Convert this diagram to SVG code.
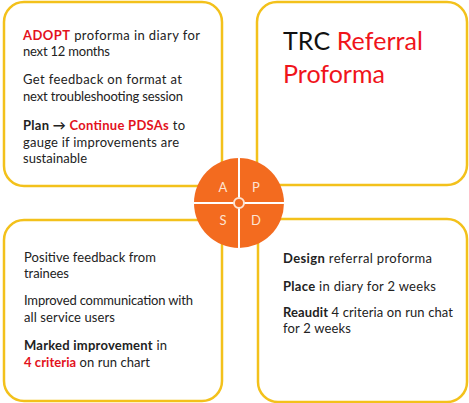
<svg xmlns="http://www.w3.org/2000/svg" width="469" height="403" viewBox="0 0 469 403">
<style>
.box{fill:#fff;stroke:#F3C11B;stroke-width:2.5}
.t{font-family:Lato,"Open Sans",sans-serif;font-size:13px;fill:#222}
.b{font-weight:bold}
.r{fill:#E3121D}
.title{font-family:Lato,"Open Sans",sans-serif;font-size:25px;fill:#111}
.tr{fill:#F0141B}
.pd{font-family:Lato,"Open Sans",sans-serif;font-size:13px;fill:#FDE3D2;text-anchor:middle}
</style>
<rect width="469" height="403" fill="#fff"/>
<g id="act">
<rect class="box" x="4" y="2" width="218" height="184" rx="20"/>
<text class="t" x="23" y="40" textLength="177" lengthAdjust="spacing"><tspan class="b r">ADOPT</tspan>  proforma in diary for</text>
<text class="t" x="23" y="56" textLength="87" lengthAdjust="spacing">next 12 months</text>
<text class="t" x="23" y="84" textLength="159" lengthAdjust="spacing">Get feedback on format at</text>
<text class="t" x="23" y="101" textLength="160" lengthAdjust="spacing">next troubleshooting session</text>
<text class="t" x="23" y="130" textLength="162" lengthAdjust="spacing"><tspan class="b">Plan → </tspan><tspan class="b r">Continue PDSAs</tspan> to</text>
<text class="t" x="23" y="147" textLength="156" lengthAdjust="spacing">gauge if improvements are</text>
<text class="t" x="23" y="163" textLength="64" lengthAdjust="spacing">sustainable</text>
</g>
<g id="plan">
<rect class="box" x="257" y="2" width="210" height="183" rx="20"/>
<text class="title" x="283" y="50" textLength="140" lengthAdjust="spacing">TRC <tspan class="tr">Referral</tspan></text>
<text class="title tr" x="283" y="83" textLength="102" lengthAdjust="spacing">Proforma</text>
</g>
<g id="study">
<rect class="box" x="4" y="220" width="218" height="181" rx="20"/>
<text class="t" x="24" y="262" textLength="132" lengthAdjust="spacing">Positive feedback from</text>
<text class="t" x="24" y="278" textLength="45" lengthAdjust="spacing">trainees</text>
<text class="t" x="24" y="305" textLength="169" lengthAdjust="spacing">Improved communication with</text>
<text class="t" x="24" y="322" textLength="91" lengthAdjust="spacing">all service users</text>
<text class="t" x="24" y="350" textLength="143" lengthAdjust="spacing"><tspan class="b">Marked improvement</tspan> in</text>
<text class="t" x="24" y="367" textLength="126" lengthAdjust="spacing"><tspan class="b r">4 criteria</tspan> on run chart</text>
</g>
<g id="do">
<rect class="box" x="258" y="219" width="209" height="183" rx="20"/>
<text class="t" x="283" y="263" textLength="149" lengthAdjust="spacing"><tspan class="b">Design</tspan> referral proforma</text>
<text class="t" x="283" y="291" textLength="153" lengthAdjust="spacing"><tspan class="b">Place</tspan> in diary for 2 weeks</text>
<text class="t" x="283" y="317" textLength="170" lengthAdjust="spacing"><tspan class="b">Reaudit</tspan> 4 criteria on run chat</text>
<text class="t" x="283" y="333" textLength="68" lengthAdjust="spacing">for 2 weeks</text>
</g>
<g id="pdsa-cycle">
<circle cx="239" cy="203" r="45" fill="#F36B1F"/>
<line x1="239" y1="158" x2="239" y2="248" stroke="#fff" stroke-width="2"/>
<line x1="194" y1="203" x2="284" y2="203" stroke="#fff" stroke-width="2"/>
<circle cx="239" cy="203" r="5" fill="#F36B1F" stroke="#FDE3D2" stroke-width="2"/>
<text class="pd" x="223" y="192">A</text>
<text class="pd" x="256" y="192">P</text>
<text class="pd" x="223" y="225">S</text>
<text class="pd" x="256" y="225">D</text>
</g>
<g id="connectors"></g>
</svg>
